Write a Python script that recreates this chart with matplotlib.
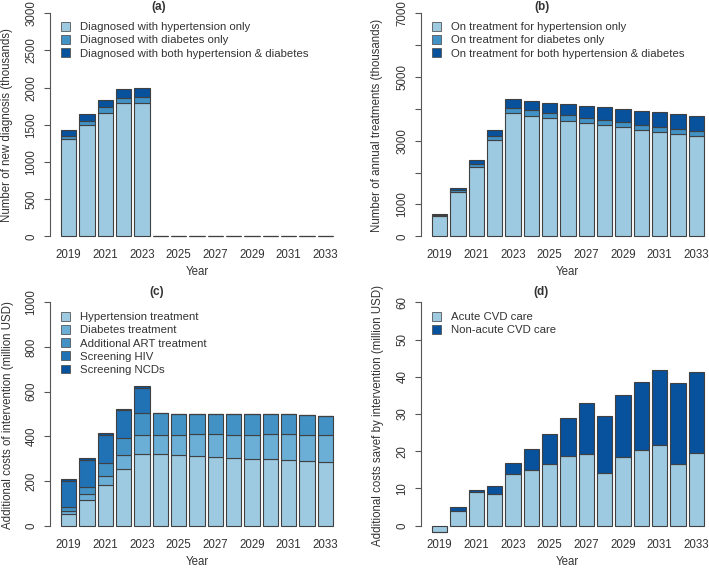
import numpy as np
import matplotlib
matplotlib.use("Agg")
import matplotlib.pyplot as plt
from matplotlib.patches import Patch

plt.rcParams['font.family'] = ['Liberation Sans', 'DejaVu Sans']

years = list(range(2019, 2034))

# (a) new diagnoses (thousands)
diag_htn = [1305, 1493, 1664, 1787, 1798, 0, 0, 0, 0, 0, 0, 0, 0, 0, 0]
diag_dm = [45, 63, 76, 80, 81, 0, 0, 0, 0, 0, 0, 0, 0, 0, 0]
diag_both = [80, 90, 98, 110, 116, 0, 0, 0, 0, 0, 0, 0, 0, 0, 0]

# (b) annual treatments (thousands)
treat_htn = [640, 1383, 2160, 3012, 3855, 3782, 3698, 3635, 3562, 3500, 3436, 3352, 3285, 3206, 3138]
treat_dm = [20, 67, 115, 147, 177, 171, 182, 172, 162, 166, 167, 157, 161, 162, 157]
treat_both = [46, 67, 131, 193, 278, 299, 320, 341, 366, 382, 387, 429, 445, 471, 481]

# (c) additional costs of intervention (million USD)
cost_htn = [51, 114, 180, 252, 322, 319, 316, 312, 307, 303, 300, 297, 294, 290, 285]
cost_dm = [15, 27, 44, 65, 84, 87, 90, 99, 104, 105, 108, 112, 115, 118, 121]
cost_art = [16, 33, 57, 75, 99, 98, 95, 90, 90, 90, 90, 89, 89, 89, 87]
cost_hiv = [117, 121, 126, 125, 112, 0, 0, 0, 0, 0, 0, 0, 0, 0, 0]
cost_ncd = [8, 9, 8, 7.5, 7.5, 0, 0, 0, 0, 0, 0, 0, 0, 0, 0]

# (d) costs saved (million USD)
saved_acute = [-1.7, 3.9, 9.0, 8.4, 14.0, 14.9, 16.5, 18.6, 19.2, 14.1, 18.4, 20.2, 21.8, 16.7, 19.5]
saved_nonacute = [0, 1.0, 0.5, 2.2, 2.9, 5.7, 8.2, 10.2, 13.7, 15.4, 16.8, 18.5, 20.0, 21.7, 21.9]

W, H = 709, 568
fig = plt.figure(figsize=(W / 100, H / 100), dpi=100)
txt = '#333333'
edge = '#404040'


def add_ax(x0, x1, ytop, ybot):
    return fig.add_axes([x0 / W, 1 - ybot / H, (x1 - x0) / W, (ybot - ytop) / H])


def stacked(ax, series, colors, ymax, yticks, ylabels):
    pos = 0.7 + 1.2 * np.arange(len(years))
    bottom = np.zeros(len(years))
    for vals, col in zip(series, colors):
        vals = np.array(vals, dtype=float)
        ax.bar(pos, vals, width=1.0, bottom=bottom, color=col,
               edgecolor=edge, linewidth=0.8)
        bottom = bottom + vals
    ax.set_xlim(-0.512, 18.712)
    ax.set_ylim(-0.04 * ymax, 1.04 * ymax)
    for s in ['top', 'right', 'bottom']:
        ax.spines[s].set_visible(False)
    ax.spines['left'].set_bounds(0, ymax)
    ax.spines['left'].set_color('#555555')
    ax.set_xticks(pos[::2])
    ax.set_xticklabels([str(y) for y in years[::2]])
    ax.tick_params(axis='x', length=0, pad=3, labelsize=8.3, labelcolor=txt)
    ax.set_yticks(yticks)
    ax.set_yticklabels(ylabels, rotation=90, va='center')
    ax.tick_params(axis='y', length=4, pad=5, labelsize=8.3, labelcolor=txt,
                   color='#555555')


def legend(ax, labels, colors, x, y):
    handles = [Patch(facecolor=c, edgecolor='#555555', linewidth=0.6) for c in colors]
    ax.legend(handles, labels, loc='upper left', bbox_to_anchor=(x / W, 1 - y / H),
              bbox_transform=fig.transFigure, frameon=False, fontsize=8.2,
              handlelength=0.8, handleheight=0.8, handletextpad=0.9,
              labelspacing=0.25, borderpad=0, borderaxespad=0, labelcolor=txt)


c_light = '#9ecae1'
c_mid = '#4292c6'
c_dark = '#08519c'

# (a)
ax = add_ax(50.1, 343.9, 4.4, 245.2)
stacked(ax, [diag_htn, diag_dm, diag_both], [c_light, c_mid, c_dark], 3000,
        range(0, 3001, 500), [str(v) for v in range(0, 3001, 500)])
legend(ax, ['Diagnosed with hypertension only', 'Diagnosed with diabetes only',
            'Diagnosed with both hypertension & diabetes'],
       [c_light, c_mid, c_dark], 61, 22)
fig.text(7.5 / W, 1 - 125 / H, 'Number of new diagnosis (thousands)', rotation=90,
         ha='center', va='center', fontsize=8.3, color=txt)
fig.text(197 / W, 1 - 272 / H, 'Year', ha='center', va='center', fontsize=8.3, color=txt)
fig.text(159 / W, 1 - 7 / H, '(a)', ha='center', va='center', fontsize=8.5,
         fontweight='bold', color=txt)

# (b)
ax = add_ax(421, 714.8, 4.4, 245.2)
stacked(ax, [treat_htn, treat_dm, treat_both], [c_light, c_mid, c_dark], 7000,
        range(0, 7001, 1000), ['0', '1000', '', '3000', '', '5000', '', '7000'])
legend(ax, ['On treatment for hypertension only', 'On treatment for diabetes only',
            'On treatment for both hypertension & diabetes'],
       [c_light, c_mid, c_dark], 432, 22)
fig.text(377 / W, 1 - 125 / H, 'Number of annual treatments (thousands)', rotation=90,
         ha='center', va='center', fontsize=8.3, color=txt)
fig.text(567 / W, 1 - 272 / H, 'Year', ha='center', va='center', fontsize=8.3, color=txt)
fig.text(542 / W, 1 - 7 / H, '(b)', ha='center', va='center', fontsize=8.5,
         fontweight='bold', color=txt)

# (c)
cost_cols = ['#9ecae1', '#6baed6', '#4292c6', '#2171b5', '#08519c']
ax = add_ax(50.1, 343.9, 293.4, 534.6)
stacked(ax, [cost_htn, cost_dm, cost_art, cost_hiv, cost_ncd], cost_cols, 1000,
        range(0, 1001, 200), [str(v) for v in range(0, 1001, 200)])
legend(ax, ['Hypertension treatment', 'Diabetes treatment', 'Additional ART treatment',
            'Screening HIV', 'Screening NCDs'], cost_cols, 61, 312)
fig.text(8.3 / W, 1 - 415 / H, 'Additional costs of intervention (million USD)',
         rotation=90, ha='center', va='center', fontsize=8.3, color=txt)
fig.text(197 / W, 1 - 562 / H, 'Year', ha='center', va='center', fontsize=8.3, color=txt)
fig.text(157 / W, 1 - 291.5 / H, '(c)', ha='center', va='center', fontsize=8.5,
         fontweight='bold', color=txt)

# (d)
ax = add_ax(421, 714.8, 293.4, 534.6)
stacked(ax, [saved_acute, saved_nonacute], [c_light, c_dark], 60,
        range(0, 61, 10), [str(v) for v in range(0, 61, 10)])
legend(ax, ['Acute CVD care', 'Non-acute CVD care'], [c_light, c_dark], 432, 312)
fig.text(378 / W, 1 - 415 / H, 'Additional costs savef by intervention (million USD)',
         rotation=90, ha='center', va='center', fontsize=8.3, color=txt)
fig.text(567 / W, 1 - 562 / H, 'Year', ha='center', va='center', fontsize=8.3, color=txt)
fig.text(541 / W, 1 - 292 / H, '(d)', ha='center', va='center', fontsize=8.5,
         fontweight='bold', color=txt)

fig.savefig('out.png', dpi=100)
